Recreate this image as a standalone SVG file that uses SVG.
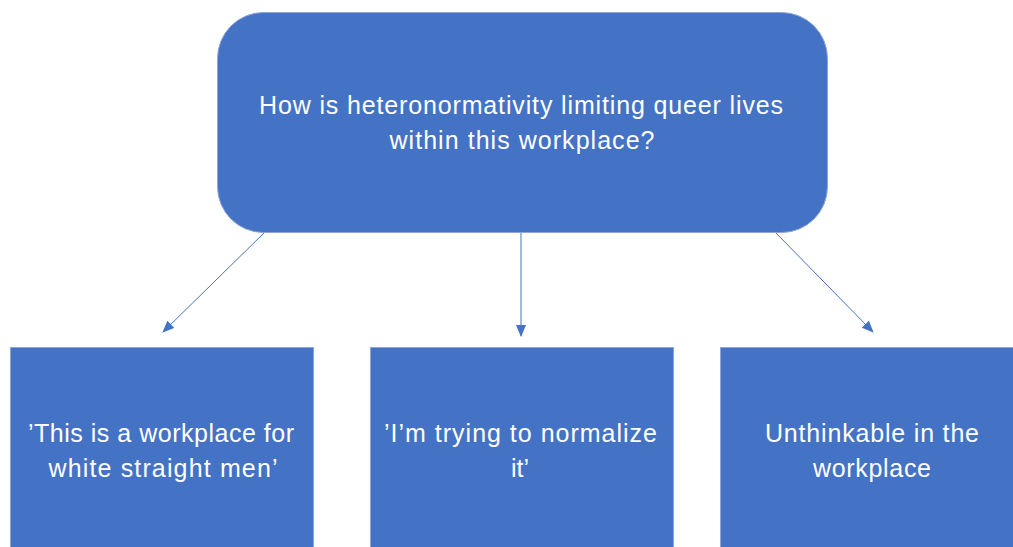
<svg xmlns="http://www.w3.org/2000/svg" width="1013" height="547" viewBox="0 0 1013 547">
<style>
.box{fill:#4472C4;stroke:#8EA6D6;stroke-width:1}
.t{font-family:"Liberation Sans",Arial,sans-serif;font-size:25px;fill:#FFFFFF;text-anchor:middle}
.c{stroke:#4472C4;stroke-width:1;fill:none}
</style>
<defs>
<marker id="ah" markerUnits="userSpaceOnUse" markerWidth="12" markerHeight="10" refX="11" refY="5" orient="auto">
<path d="M0,0 L12,5 L0,10 Z" fill="#4472C4"/>
</marker>
</defs>
<rect width="1013" height="547" fill="#FFFFFF"/>
<g id="connectors">
<line class="c" x1="265" y1="232" x2="163" y2="332" marker-end="url(#ah)"/>
<line class="c" x1="521" y1="232" x2="521" y2="336" marker-end="url(#ah)"/>
<line class="c" x1="775" y1="232" x2="873" y2="332" marker-end="url(#ah)"/>
</g>
<g id="root">
<rect class="box" x="217.5" y="12.5" width="610" height="220" rx="46" ry="46"/>
<text class="t" x="521" y="114" textLength="524" lengthAdjust="spacing">How is heteronormativity limiting queer lives</text>
<text class="t" x="522" y="149" textLength="265" lengthAdjust="spacing">within this workplace?</text>
</g>
<g id="node-left">
<rect class="box" x="10.5" y="347.5" width="303" height="215"/>
<text class="t" x="161" y="442" textLength="266" lengthAdjust="spacing">’This is a workplace for</text>
<text class="t" x="163" y="477" textLength="229" lengthAdjust="spacing">white straight men’</text>
</g>
<g id="node-middle">
<rect class="box" x="370.5" y="347.5" width="303" height="215"/>
<text class="t" x="520.5" y="442" textLength="273" lengthAdjust="spacing">’I’m trying to normalize</text>
<text class="t" x="520" y="477">it’</text>
</g>
<g id="node-right">
<rect class="box" x="720.5" y="347.5" width="304" height="215"/>
<text class="t" x="872" y="442" textLength="214" lengthAdjust="spacing">Unthinkable in the</text>
<text class="t" x="872" y="477" textLength="118" lengthAdjust="spacing">workplace</text>
</g>
</svg>
